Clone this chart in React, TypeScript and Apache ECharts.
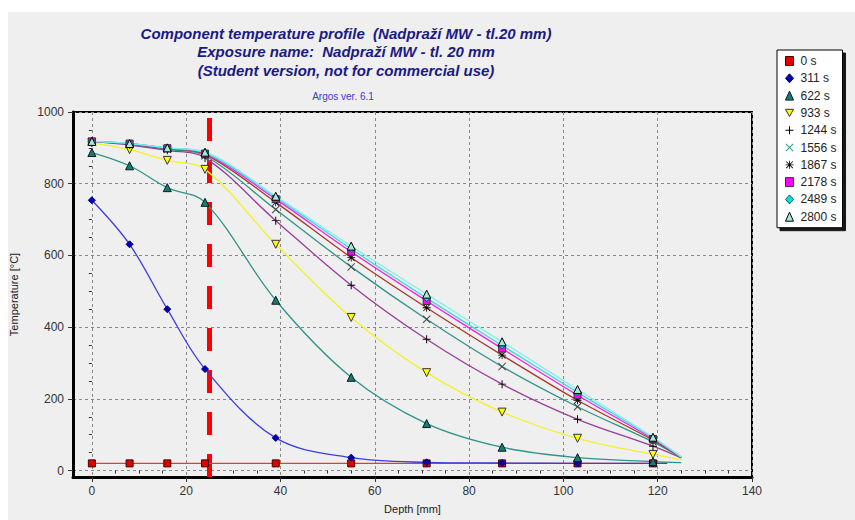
import React, { useEffect, useRef } from "react";
import * as echarts from "echarts";

// Depths [mm] where the profile is sampled (markers), plus the surface end point
const markerDepths = [0, 8, 16, 24, 39, 55, 71, 87, 103, 119];
const endDepths = [122, 122, 125, 125, 125, 125, 125, 125, 125, 125];

const seriesNames = ["0 s", "311 s", "622 s", "933 s", "1244 s", "1556 s", "1867 s", "2178 s", "2489 s", "2800 s"];

// Temperatures [°C] at markerDepths, last entry at the end depth
const temp0 = [20, 20, 20, 20, 20, 20, 20, 20, 20, 20, 20];
const temp311 = [754, 631, 450, 283, 91, 36, 23, 21, 20, 20, 20];
const temp622 = [887, 850, 789, 748, 475, 260, 131, 65, 36, 25, 22];
const temp933 = [914, 895, 865, 840, 631, 427, 273, 163, 90, 45, 30];
const temp1244 = [918, 908, 893, 872, 697, 517, 366, 241, 143, 68, 35];
const temp1556 = [918, 910, 896, 878, 728, 568, 422, 290, 178, 80, 36];
const temp1867 = [918, 911, 898, 882, 748, 594, 454, 322, 196, 85, 37];
const temp2178 = [918, 912, 899, 884, 757, 610, 473, 340, 210, 88, 37];
const temp2489 = [918, 912, 900, 886, 762, 618, 481, 349, 218, 91, 38];
const temp2800 = [918, 912, 900, 888, 765, 626, 492, 359, 226, 93, 38];

const temps = [temp0, temp311, temp622, temp933, temp1244, temp1556, temp1867, temp2178, temp2489, temp2800];

// Axis ticks
const depthTicks = [0, 20, 40, 60, 80, 100, 120, 140];
const depthMinorTicks = [5, 10, 15, 25, 30, 35, 45, 50, 55, 65, 70, 75, 85, 90, 95, 105, 110, 115, 125, 130, 135];
const tempTicks = [0, 200, 400, 600, 800, 1000];
const tempMinorTicks = [50, 100, 150, 250, 300, 350, 450, 500, 550, 650, 700, 750, 850, 900, 950];

// Boundary of the protective layer
const boundaryDepth = 25;

const plusPath = "path://M4.4,0H5.6V4.4H10V5.6H5.6V10H4.4V5.6H0V4.4H4.4Z";
const crossPath = "path://M1,0.2L5,4.2L9,0.2L9.8,1L5.8,5L9.8,9L9,9.8L5,5.8L1,9.8L0.2,9L4.2,5L0.2,1Z";
const starPath =
  "path://M4.5,0H5.5V10H4.5Z M0,4.5H10V5.5H0Z M1.2,0.5L9.5,8.8L8.8,9.5L0.5,1.2Z M8.8,0.5L9.5,1.2L1.2,9.5L0.5,8.8Z";
const downTriPath = "path://M0,0H10L5,9Z";

const symbols = ["rect", "diamond", "triangle", downTriPath, plusPath, crossPath, starPath, "rect", "diamond", "triangle"];
const symbolSizes = [7, 7, 8, 8, 8, 8, 8, 7, 7, 8];
const markerColors = ["#e00000", "#0000b4", "#1b7a70", "#ffff00", "#000000", "#404040", "#000000", "#ff00ff", "#00e0e0", "#a8e8d8"];
const legendColors = ["#e00000", "#0000b4", "#1b7a70", "#ffff00", "#000000", "#2f9488", "#000000", "#ff00ff", "#00e0e0", "#a8e8d8"];
const markerBorders = ["#400000", "#000080", "#002020", "#333333", "#000000", "#404040", "#000000", "#333333", "#006060", "#000000"];
const lineColors = ["#e83838", "#3c3ce0", "#2f9488", "#f2f226", "#9a3c9a", "#2f9488", "#a33a2a", "#f020f0", "#40d8d8", "#80f0ec"];

const FONT = "Liberation Sans, Arial, sans-serif";

export default function App() {
  const ref = useRef<HTMLDivElement>(null);

  useEffect(() => {
    if (!ref.current) return;
    const chart = echarts.init(ref.current, undefined, { renderer: "svg" });

    const series: any[] = seriesNames.map((name, s) => {
      const values = temps[s];
      const data: any[] = markerDepths.map((d, i) => [d, values[i]]);
      data.push({ value: [endDepths[s], values[values.length - 1]], symbol: "none" });
      const hasBorder = !symbols[s].startsWith("path://");
      return {
        name,
        type: "line",
        data,
        smooth: 0.35,
        symbol: symbols[s],
        symbolSize: symbolSizes[s],
        showAllSymbol: true,
        lineStyle: { color: lineColors[s], width: 1.3 },
        itemStyle: {
          color: markerColors[s],
          borderColor: markerBorders[s],
          borderWidth: hasBorder || s === 3 ? 1 : 0,
        },
        emphasis: { disabled: true },
        z: 2,
      };
    });

    series[0].markLine = {
      silent: true,
      symbol: "none",
      label: { show: false },
      lineStyle: { color: "#ff0000", width: 5, type: [23, 19] },
      data: [{ xAxis: boundaryDepth }],
      z: 1,
    };

    const option: any = {
      animation: false,
      backgroundColor: "transparent",
      textStyle: { fontFamily: FONT },
      title: [
        {
          text:
            "Component temperature profile  (Nadpraží MW - tl.20 mm)\nExposure name:  Nadpraží MW - tl. 20 mm\n(Student version, not for commercial use)",
          left: 346,
          top: 24,
          padding: 0,
          textAlign: "center",
          textStyle: {
            fontFamily: FONT,
            fontSize: 15,
            fontStyle: "italic",
            fontWeight: "bold",
            lineHeight: 18.5,
            color: "#1a1a85",
          },
        },
        {
          text: "Argos ver. 6.1",
          left: 343,
          top: 91,
          padding: 0,
          textAlign: "center",
          textStyle: { fontFamily: FONT, fontSize: 10, fontWeight: "normal", color: "#3a3ad8" },
        },
      ],
      legend: {
        orient: "vertical",
        left: 777,
        top: 50,
        backgroundColor: "#ffffff",
        borderColor: "#000000",
        borderWidth: 1,
        borderRadius: 0,
        padding: [5, 6, 5, 8],
        itemGap: 5.3,
        itemWidth: 8,
        itemHeight: 9,
        shadowColor: "rgba(0,0,0,0.9)",
        shadowBlur: 0,
        shadowOffsetX: 3,
        shadowOffsetY: 3,
        textStyle: { fontFamily: FONT, fontSize: 12, color: "#222222", lineHeight: 10, padding: [0, 0, 0, 2] },
        data: seriesNames.map((n, i) => ({
          name: n,
          icon: symbols[i],
          itemStyle: { color: legendColors[i], borderColor: markerBorders[i], borderWidth: symbols[i].startsWith("path://") && i !== 3 ? 0 : 1 },
        })),
      },
      grid: {
        left: 68,
        right: 103,
        top: 112,
        bottom: 43,
        show: true,
        borderColor: "#000000",
        borderWidth: 2,
        backgroundColor: "transparent",
      },
      xAxis: [
        {
          type: "value",
          min: -4,
          max: 140,
          position: "bottom",
          name: "Depth [mm]",
          nameLocation: "middle",
          nameGap: 26,
          nameTextStyle: { fontFamily: FONT, fontSize: 11, color: "#222222" },
          axisLine: { show: true, onZero: false, lineStyle: { color: "#000000", width: 3 } },
          axisTick: { show: true, customValues: depthTicks, length: 5, lineStyle: { color: "#333333" } },
          axisLabel: {
            customValues: depthTicks,
            formatter: (v: number) => String(v),
            fontFamily: FONT,
            fontSize: 12,
            color: "#333333",
            margin: 8,
          },
          splitLine: { show: true, lineStyle: { color: "#888888", type: [3, 3], width: 1 } },
        },
        {
          type: "value",
          min: -4,
          max: 140,
          position: "bottom",
          axisLine: { show: false },
          axisTick: { show: true, customValues: depthMinorTicks, length: 3, lineStyle: { color: "#333333" } },
          axisLabel: { show: false },
          splitLine: { show: false },
        },
      ],
      yAxis: [
        {
          type: "value",
          min: -18,
          max: 1000,
          position: "left",
          name: "Temperature [°C]",
          nameLocation: "middle",
          nameGap: 42,
          nameTextStyle: { fontFamily: FONT, fontSize: 11, color: "#222222", padding: [0, 0, 12, 0] },
          axisLine: { show: true, onZero: false, lineStyle: { color: "#000000", width: 3 } },
          axisTick: { show: true, customValues: tempTicks, length: 5, lineStyle: { color: "#333333" } },
          axisLabel: {
            customValues: tempTicks,
            formatter: (v: number) => String(v),
            fontFamily: FONT,
            fontSize: 12,
            color: "#333333",
            margin: 9,
          },
          splitLine: { show: true, lineStyle: { color: "#888888", type: [3, 3], width: 1 } },
        },
        {
          type: "value",
          min: -18,
          max: 1000,
          position: "left",
          axisLine: { show: false },
          axisTick: { show: true, customValues: tempMinorTicks, length: 3, lineStyle: { color: "#333333" } },
          axisLabel: { show: false },
          splitLine: { show: false },
        },
      ],
      series,
    };

    chart.setOption(option);
    return () => chart.dispose();
  }, []);

  return (
    <div style={{ position: "fixed", left: 0, top: 0, width: 855, height: 520, background: "#ffffff" }}>
      <div style={{ position: "absolute", left: 8, top: 12, right: 0, bottom: 0, background: "#efefef" }} />
      <div ref={ref} style={{ position: "absolute", left: 0, top: 0, width: 855, height: 520 }} />
    </div>
  );
}
